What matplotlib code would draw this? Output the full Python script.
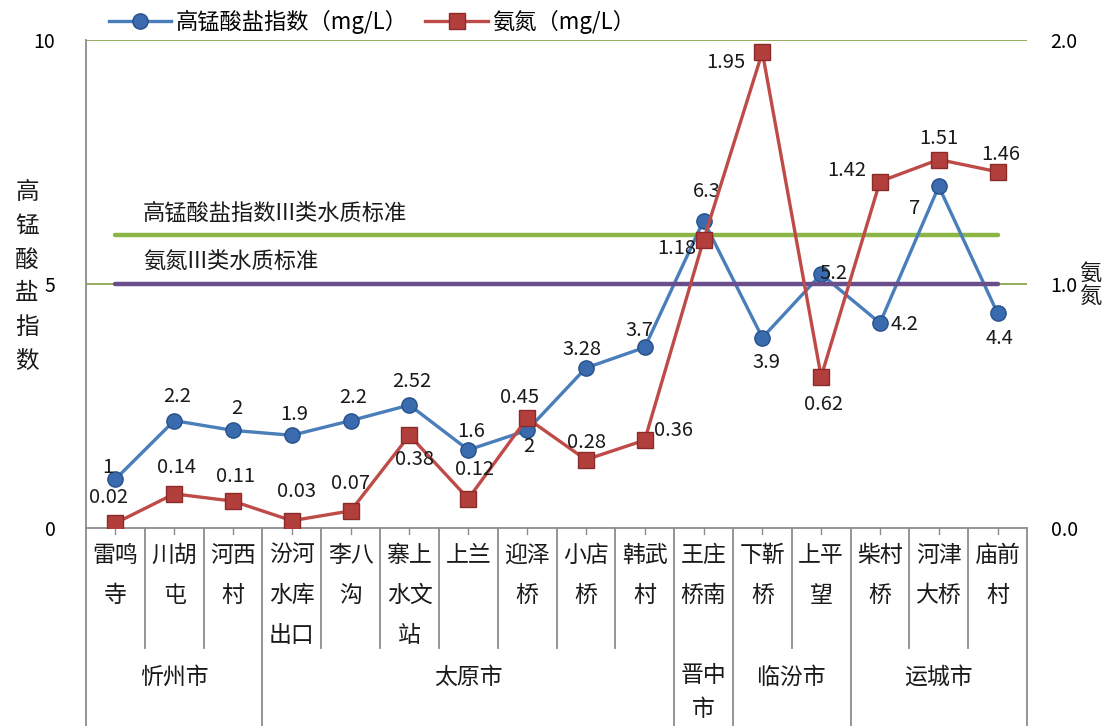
import matplotlib
matplotlib.use("Agg")
import matplotlib.pyplot as plt
from matplotlib.lines import Line2D

plt.rcParams['font.family'] = ['Noto Sans CJK SC', 'DejaVu Sans']

# Data
stations = ["雷鸣\n寺", "川胡\n屯", "河西\n村", "汾河\n水库\n出口", "李八\n沟", "寨上\n水文\n站",
            "上兰", "迎泽\n桥", "小店\n桥", "韩武\n村", "王庄\n桥南", "下靳\n桥", "上平\n望",
            "柴村\n桥", "河津\n大桥", "庙前\n村"]
cities = ["忻州市", "太原市", "晋中\n市", "临汾市", "运城市"]
city_sizes = [3, 7, 1, 2, 3]
cod = [1, 2.2, 2, 1.9, 2.2, 2.52, 1.6, 2, 3.28, 3.7, 6.3, 3.9, 5.2, 4.2, 7, 4.4]
nh3 = [0.02, 0.14, 0.11, 0.03, 0.07, 0.38, 0.12, 0.45, 0.28, 0.36, 1.18, 1.95, 0.62, 1.42, 1.51, 1.46]
cod_std = 6
nh3_std = 1.0

# label offsets in pixels (dx, dy)
cod_off = [(-8, 12), (3, 24), (4, 22), (2, 21), (2, 23), (2, 24), (3, 18), (2, -16),
           (-4, 18), (-5, 17), (3, 29), (4, -25), (12, 1), (25, -1), (-24, -22), (2, -25)]
nh3_off = [(-7, 26), (2, 26), (2, 25), (5, 29), (0, 27), (5, -24), (6, 29), (-8, 21),
           (1, 17), (29, 10), (-27, -8), (-36, -10), (2, -28), (-33, 11), (0, 21), (3, 17)]

blue = "#4A7EBB"
red = "#BE4B48"
grid_green = "#8AA64E"
axis_gray = "#8C8C8C"
txt = "#1A1A1A"

fig = plt.figure(figsize=(11.05, 7.26), dpi=100)
ax = fig.add_axes([86 / 1105, 1 - 528 / 726, (1027 - 86) / 1105, (528 - 40) / 726])
ax2 = ax.twinx()

x = list(range(len(stations)))
ax.set_xlim(-0.5, len(stations) - 0.5)
ax.set_ylim(0, 10)
ax2.set_ylim(0, 2)
ax.set_yticks([0, 5, 10])
ax2.set_yticks([0, 1, 2])
ax2.set_yticklabels(["0.0", "1.0", "2.0"])
ax.set_xticks([])
for a in (ax, ax2):
    a.tick_params(axis='y', length=0, labelsize=14)
    for s in a.spines.values():
        s.set_visible(False)
ax.tick_params(axis='y', pad=22)
ax2.tick_params(axis='y', pad=17)
for side in ('left', 'bottom'):
    ax.spines[side].set_visible(True)
    ax.spines[side].set_color(axis_gray)
    ax.spines[side].set_linewidth(1.3)

for g in (5, 10):
    ax.axhline(g, color=grid_green, lw=1.3, zorder=0)

# standard lines
ax.plot([x[0], x[-1]], [cod_std, cod_std], color="#8BB545", lw=3.2, solid_capstyle='round', zorder=1)
ax2.plot([x[0], x[-1]], [nh3_std, nh3_std], color="#6A4E8C", lw=3.2, solid_capstyle='round', zorder=1)
ax.text(0.47, cod_std + 0.22, "高锰酸盐指数III类水质标准", fontsize=16, va='bottom', ha='left', color=txt)
ax.text(0.47, 5 + 0.22, "氨氮III类水质标准", fontsize=16, va='bottom', ha='left', color=txt)

ax.plot(x, cod, color=blue, lw=2.4, marker='o', markersize=11,
        markerfacecolor="#3A6BAE", markeredgecolor="#27508A", zorder=3)
ax2.plot(x, nh3, color=red, lw=2.4, marker='s', markersize=11,
         markerfacecolor="#B23F3C", markeredgecolor="#8A2B29", zorder=3)

for i, v in enumerate(cod):
    dx, dy = cod_off[i]
    ax.annotate(f"{v:g}", (x[i], v), xytext=(dx, dy), textcoords='offset pixels',
                ha='center', va='center', fontsize=14.5, color=txt, zorder=5)
for i, v in enumerate(nh3):
    dx, dy = nh3_off[i]
    ax2.annotate(f"{v:g}", (x[i], v), xytext=(dx, dy), textcoords='offset pixels',
                 ha='center', va='center', fontsize=14.5, color=txt, zorder=5)

# axis titles
fig.text(27 / 1105, 1 - 277 / 726, "高\n锰\n酸\n盐\n指\n数", fontsize=17, ha='center', va='center',
         linespacing=1.6, color=txt)
fig.text(1090 / 1105, 1 - 285 / 726, "氨\n氮", fontsize=16, ha='center', va='center',
         linespacing=1.0, color=txt)

# category label area
ph = 528 - 40
y_cat = -(648 - 528) / ph
y_bot = -(726 - 528) / ph
y_tick = -6 / ph
trans = ax.get_xaxis_transform()
city_edges = [0]
for n in city_sizes:
    city_edges.append(city_edges[-1] + n)
for b in range(len(stations) + 1):
    y_end = y_bot if b in city_edges else y_cat
    ax.plot([b - 0.5, b - 0.5], [0, y_end], transform=trans, color=axis_gray, lw=1.3, clip_on=False)
for i in x:
    ax.plot([i, i], [0, y_tick], transform=trans, color=axis_gray, lw=1.0, clip_on=False)
    ax.text(i, -(544 - 528) / ph, stations[i], transform=trans, ha='center', va='top', fontsize=16.5,
            linespacing=1.95, color=txt)
for c, name in enumerate(cities):
    mid = (city_edges[c] + city_edges[c + 1]) / 2 - 0.5
    if "\n" in name:
        ax.text(mid, -(664 - 528) / ph, name, transform=trans, ha='center', va='top', fontsize=16.5,
                linespacing=1.6, color=txt)
    else:
        ax.text(mid, -(677 - 528) / ph, name, transform=trans, ha='center', va='center', fontsize=16.5,
                color=txt)

handles = [
    Line2D([], [], color=blue, lw=2.4, marker='o', markersize=11, markerfacecolor="#3A6BAE",
           markeredgecolor="#27508A"),
    Line2D([], [], color=red, lw=2.4, marker='s', markersize=11, markerfacecolor="#B23F3C",
           markeredgecolor="#8A2B29"),
]
fig.legend(handles, ["高锰酸盐指数（mg/L）", "氨氮（mg/L）"], loc='center', ncol=2,
           bbox_to_anchor=(372 / 1105, 1 - 22 / 726), frameon=False, fontsize=16,
           handlelength=2.8, columnspacing=0.8, handletextpad=0.2)

fig.savefig("out.png", dpi=100)
